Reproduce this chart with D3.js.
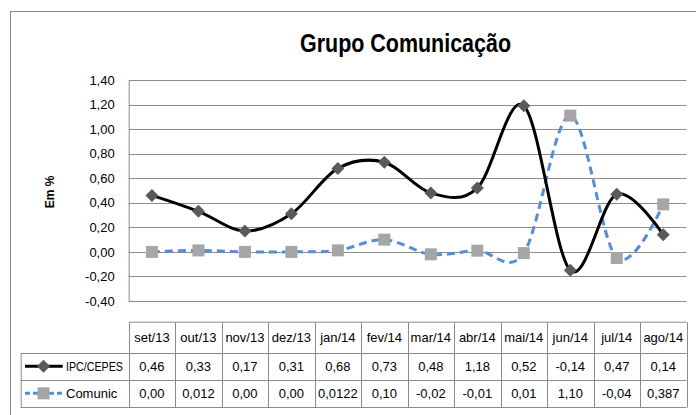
<!DOCTYPE html>
<html>
<head>
<meta charset="utf-8">
<script src="https://cdn.jsdelivr.net/npm/d3@7"></script>
<style>
  body { margin: 0; background: #fff; }
  svg { display: block; }
  text { font-family: "Liberation Sans", Arial, sans-serif; fill: #000; }
</style>
</head>
<body>
<div id="chart"></div>
<script>
const months = ["set/13", "out/13", "nov/13", "dez/13", "jan/14", "fev/14", "mar/14", "abr/14", "mai/14", "jun/14", "jul/14", "ago/14"];
// values as plotted in the picture
const ipcValues = [0.46, 0.33, 0.17, 0.31, 0.68, 0.73, 0.48, 0.52, 1.19, -0.15, 0.47, 0.14];
const comunicValues = [0.00, 0.012, 0.00, 0.00, 0.0122, 0.10, -0.02, 0.01, -0.01, 1.11, -0.05, 0.387];
// values as printed in the data table
const ipcTable = ["0,46", "0,33", "0,17", "0,31", "0,68", "0,73", "0,48", "1,18", "0,52", "-0,14", "0,47", "0,14"];
const comunicTable = ["0,00", "0,012", "0,00", "0,00", "0,0122", "0,10", "-0,02", "-0,01", "0,01", "1,10", "-0,04", "0,387"];
const yTicks = [-0.4, -0.2, 0, 0.2, 0.4, 0.6, 0.8, 1.0, 1.2, 1.4];

const width = 696;
const height = 415;
const plot = { left: 128.7, right: 686.5, top: 80, bottom: 301 };
const table = { top: 321.7, rows: [352.7, 380, 406.7], legendLeft: 20.7 };
const gridColor = "#8c8c8c";

const locale = d3.formatLocale({ decimal: ",", thousands: ".", grouping: [3], currency: ["", ""], minus: "-" });
const fmt = locale.format(".2f");

const svg = d3.select("#chart").append("svg")
  .attr("width", width)
  .attr("height", height);

// outer chart border
svg.append("rect")
  .attr("x", 10.5).attr("y", 11.5)
  .attr("width", width).attr("height", height)
  .attr("fill", "none")
  .attr("stroke", "#8a8a8a");

svg.append("text")
  .attr("x", 405.5).attr("y", 52)
  .attr("text-anchor", "middle")
  .attr("textLength", 211)
  .attr("lengthAdjust", "spacingAndGlyphs")
  .style("font-weight", "bold")
  .style("font-size", "25px")
  .text("Grupo Comunicação");

const x = d3.scaleBand().domain(months).range([plot.left, plot.right]);
const y = d3.scaleLinear().domain([-0.4, 1.4]).range([plot.bottom, plot.top]);

// gridlines
svg.append("g")
  .selectAll("line")
  .data(yTicks)
  .join("line")
  .attr("x1", plot.left).attr("x2", plot.right)
  .attr("y1", (d) => Math.round(y(d)) + 0.5)
  .attr("y2", (d) => Math.round(y(d)) + 0.5)
  .attr("stroke", gridColor)
  .attr("stroke-width", 1);

svg.append("g")
  .attr("transform", `translate(${plot.left},0)`)
  .call(d3.axisLeft(y).tickValues(yTicks).tickFormat(fmt).tickSize(0).tickPadding(14))
  .call((axis) => axis.select(".domain").attr("stroke", gridColor))
  .call((axis) => axis.selectAll(".tick text")
    .style("font-size", "13px")
    .style("font-family", "'Liberation Sans', sans-serif")
    .attr("fill", "#000"));

svg.append("text")
  .attr("transform", "translate(54,192) rotate(-90)")
  .attr("text-anchor", "middle")
  .style("font-weight", "bold")
  .style("font-size", "12px")
  .text("Em %");

const cx = (i) => x(months[i]) + x.bandwidth() / 2;
const curve = d3.curveCatmullRom.alpha(0);

const series = [
  { label: "IPC/CEPES", values: ipcValues, cells: ipcTable, color: "#000", dash: null, marker: "diamond", markerColor: "#5a5a5a" },
  { label: "Comunic", values: comunicValues, cells: comunicTable, color: "#558ed5", dash: "8,5", marker: "square", markerColor: "#a6a6a6" },
];

const line = d3.line().x((d, i) => cx(i)).y((d) => y(d)).curve(curve);

const drawMarker = (g, type, color, px, py) => {
  if (type === "diamond") {
    g.append("path")
      .attr("d", `M${px},${py - 6.5}L${px + 6.5},${py}L${px},${py + 6.5}L${px - 6.5},${py}Z`)
      .attr("fill", color);
  } else {
    g.append("rect")
      .attr("x", px - 6).attr("y", py - 6)
      .attr("width", 12).attr("height", 12)
      .attr("fill", color);
  }
};

series.slice().reverse().forEach((s) => {
  svg.append("path")
    .datum(s.values)
    .attr("fill", "none")
    .attr("stroke", s.color)
    .attr("stroke-width", 3)
    .attr("stroke-dasharray", s.dash)
    .attr("d", line);
});
series.slice().reverse().forEach((s) => {
  const g = svg.append("g");
  s.values.forEach((v, i) => drawMarker(g, s.marker, s.markerColor, cx(i), y(v)));
});

// data table
const tg = svg.append("g").attr("stroke", gridColor).attr("fill", "none");
const hTop = table.top + 0.5;
const rowYs = table.rows.map((r) => Math.round(r) + 0.5);
tg.append("line").attr("x1", plot.left).attr("x2", plot.right).attr("y1", hTop).attr("y2", hTop);
rowYs.forEach((ry) => {
  tg.append("line").attr("x1", table.legendLeft).attr("x2", plot.right).attr("y1", ry).attr("y2", ry);
});
const colXs = months.map((m) => Math.round(x(m)) + 0.5).concat([Math.round(plot.right) + 0.5]);
colXs.forEach((cxl) => {
  tg.append("line").attr("x1", cxl).attr("x2", cxl).attr("y1", hTop).attr("y2", rowYs[2]);
});
tg.append("line")
  .attr("x1", table.legendLeft + 0.5).attr("x2", table.legendLeft + 0.5)
  .attr("y1", rowYs[0]).attr("y2", rowYs[2]);

svg.append("g")
  .selectAll("text")
  .data(months)
  .join("text")
  .attr("x", (d, i) => cx(i))
  .attr("y", 342)
  .attr("text-anchor", "middle")
  .style("font-size", "13px")
  .text((d) => d);

series.forEach((s, k) => {
  const top = table.rows[k];
  const bottom = table.rows[k + 1];
  const mid = (top + bottom) / 2;
  svg.append("g")
    .selectAll("text")
    .data(s.cells)
    .join("text")
    .attr("x", (d, i) => cx(i))
    .attr("y", mid + 4.5)
    .attr("text-anchor", "middle")
    .style("font-size", "13px")
    .text((d) => d);

  svg.append("line")
    .attr("x1", 25).attr("x2", 62.7)
    .attr("y1", mid).attr("y2", mid)
    .attr("stroke", s.color)
    .attr("stroke-width", 3)
    .attr("stroke-dasharray", s.dash ? "5,3" : null);
  drawMarker(svg.append("g"), s.marker, s.markerColor, 43.5, mid);

  const label = svg.append("text")
    .attr("x", 66)
    .attr("y", mid + 4.5)
    .style("font-size", "13px")
    .text(s.label);
  if (label.node().getComputedTextLength() > 58) {
    label.attr("textLength", 57).attr("lengthAdjust", "spacingAndGlyphs");
  }
});
</script>
</body>
</html>
